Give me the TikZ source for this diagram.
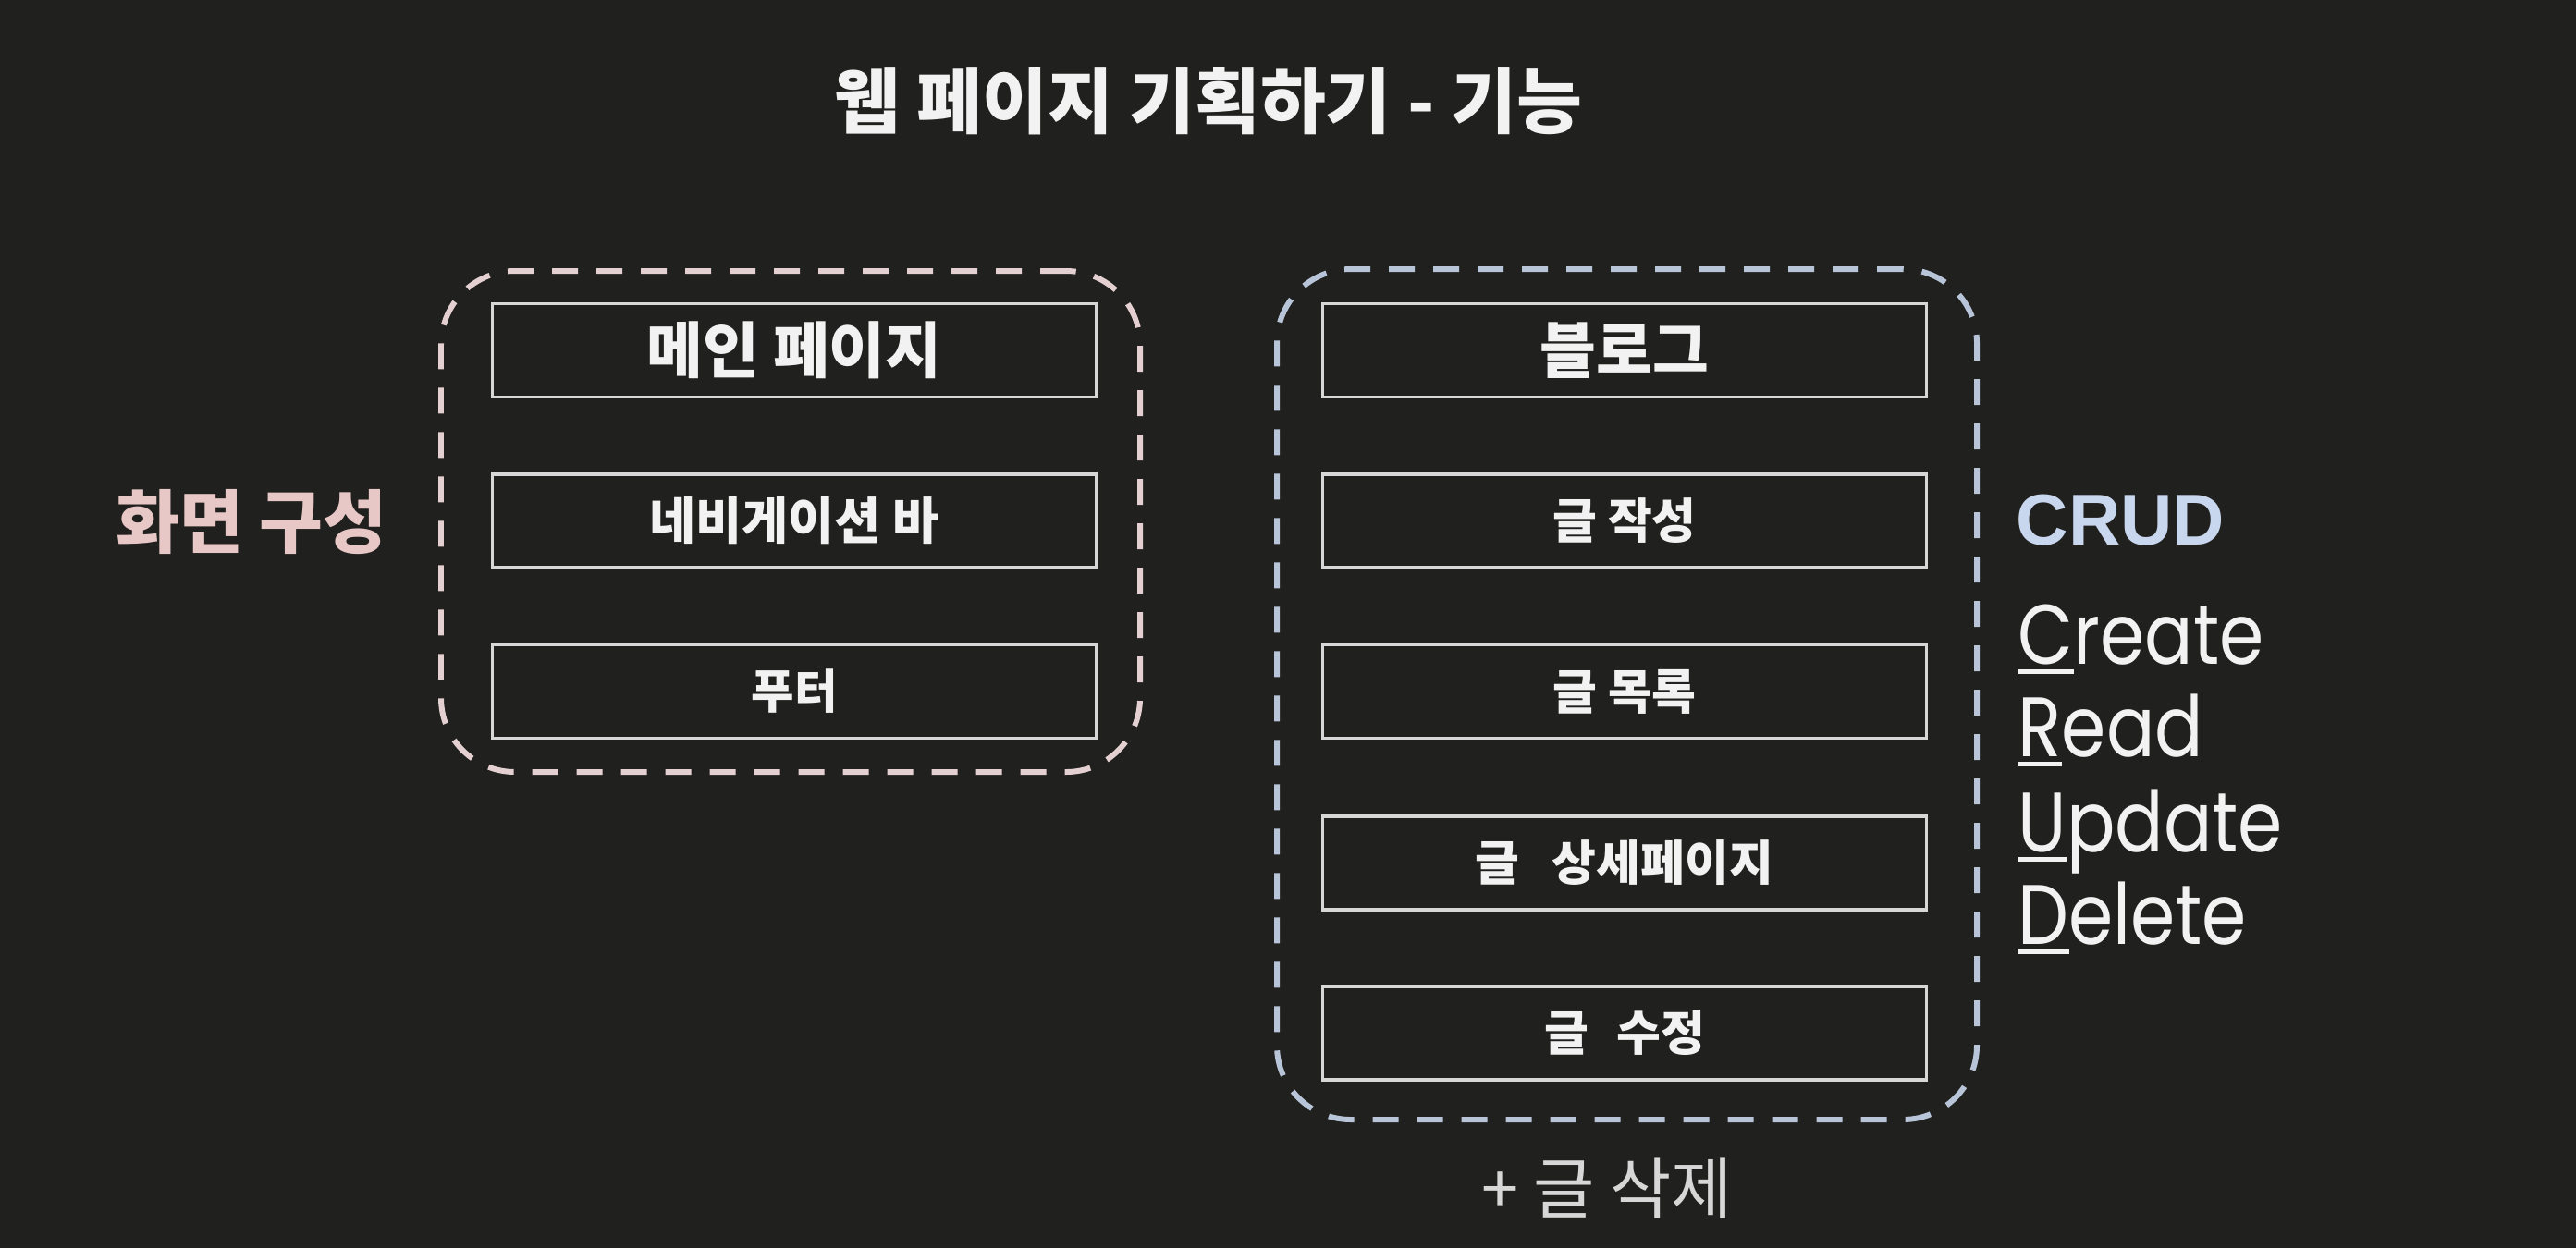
\documentclass[tikz,border=0pt]{standalone}
\usepackage{fontspec}
\setmainfont{Noto Sans CJK KR}
\newfontfamily\crudfont{Liberation Sans}
\newfontfamily\geofont[FakeStretch=0.85]{Poppins}
\definecolor{bg}{RGB}{32,32,30}
\definecolor{boxline}{RGB}{215,215,215}
\definecolor{pinkdash}{RGB}{228,208,208}
\definecolor{bluedash}{RGB}{184,196,216}
\definecolor{pinktext}{RGB}{232,200,198}
\definecolor{crudblue}{RGB}{200,214,238}
\definecolor{wtext}{RGB}{242,242,242}
\definecolor{gtext}{RGB}{215,215,215}
\newcommand\firstul[1]{\setbox0=\hbox{#1}\rlap{\rule[-3.0pt]{\wd0}{1.4pt}}\box0}
\begin{document}
\begin{tikzpicture}[
  itembox/.style={draw=boxline, line width=1.1pt, minimum width=6.53cm, minimum height=1.01cm, inner sep=0pt, text=wtext},
  headfont/.style={font=\bfseries\fontsize{18.8}{22}\selectfont},
  itemfont/.style={font=\bfseries\fontsize{14.8}{17}\selectfont},
  groupbox/.style={line width=1.7pt, dash pattern=on 0.28cm off 0.2cm, rounded corners=0.8cm, inner sep=0pt},
  crudword/.style={anchor=base west, text=wtext, font=\geofont\fontsize{26}{30}\selectfont, inner sep=0pt}
]
\fill[bg] (0,0) rectangle (27.86,-13.5);
\useasboundingbox (0,0) rectangle (27.86,-13.5);

\node[text=wtext, font=\bfseries\fontsize{21.9}{25}\selectfont] (title) at (13.07,-1.10) {웹 페이지 기획하기 - 기능};

% left group
\node[groupbox, draw=pinkdash, minimum width=7.56cm, minimum height=5.42cm] (leftgroup) at (8.55,-5.64) {};
\node[itembox, headfont] (main) at (8.59,-3.79) {메인 페이지};
\node[itembox, font=\bfseries\fontsize{15.5}{18}\selectfont] (nav) at (8.59,-5.635) {네비게이션 바};
\node[itembox, font=\bfseries\fontsize{14.4}{17}\selectfont] (footer) at (8.59,-7.48) {푸터};
\node[text=pinktext, font=\bfseries\fontsize{21.3}{24}\selectfont] (screen) at (2.72,-5.65) {화면 구성};

% right group
\node[groupbox, draw=bluedash, minimum width=7.57cm, minimum height=9.2cm] (rightgroup) at (17.595,-7.51) {};
\node[itembox, headfont] (blog) at (17.57,-3.79) {블로그};
\node[itembox, itemfont] (write) at (17.57,-5.635) {글 작성};
\node[itembox, itemfont] (list) at (17.57,-7.48) {글 목록};
\node[itembox, itemfont] (detail) at (17.57,-9.335) {글\hspace{0.45em} 상세페이지};
\node[itembox, itemfont] (edit) at (17.57,-11.175) {글\hspace{0.35em} 수정};
\node[text=gtext, font=\fontsize{20.5}{24}\selectfont] (delete) at (17.38,-12.85) {+ 글 삭제};

% CRUD
\node[anchor=west, text=crudblue, font=\crudfont\bfseries\fontsize{22.2}{25}\selectfont, inner sep=0pt] (crud) at (21.80,-5.63) {CRUD};
\node[crudword] (create) at (21.82,-7.18) {\firstul{C}reate};
\node[crudword] (read) at (21.82,-8.18) {\firstul{R}ead};
\node[crudword] (update) at (21.82,-9.21) {\firstul{U}pdate};
\node[crudword] (deleteword) at (21.82,-10.21) {\firstul{D}elete};
\end{tikzpicture}
\end{document}
